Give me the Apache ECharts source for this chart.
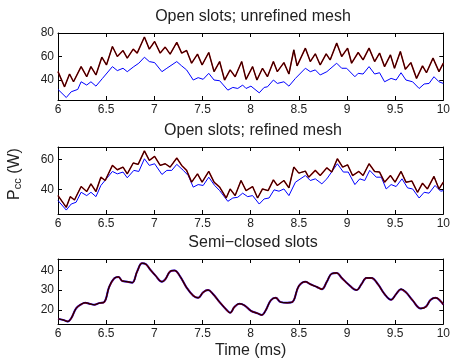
<!DOCTYPE html>
<html>
<head>
<meta charset="utf-8">
<script src="https://cdn.jsdelivr.net/npm/echarts@6/dist/echarts.min.js"></script>
<style>
  html, body { margin: 0; padding: 0; background: #fff; }
  #myecharts { width: 453px; height: 360px; }
</style>
</head>
<body>
<div id="myecharts"></div>
<script>
// data: [time (ms), Pcc (W)]
var titles = ['Open slots; unrefined mesh', 'Open slots; refined mesh', 'Semi\u2212closed slots'];

var unrefRed = [[6.000,47.1],[6.068,34.2],[6.120,45.1],[6.161,38.5],[6.240,51.4],[6.298,42.8],[6.342,51.4],[6.394,44.3],[6.455,59.4],[6.503,52.8],[6.565,68.5],[6.616,60],[6.675,65.1],[6.719,58.6],[6.781,66.3],[6.822,62.9],[6.897,76.6],[6.948,66.3],[7.003,72.8],[7.061,62.9],[7.113,68],[7.164,62],[7.233,72],[7.284,62.9],[7.335,65.1],[7.387,54.3],[7.448,62],[7.496,52.8],[7.565,63.4],[7.620,47.1],[7.678,55.7],[7.729,40],[7.787,48.6],[7.839,42.8],[7.907,55.7],[7.952,40.6],[8.020,51.4],[8.065,40],[8.123,50],[8.174,42.8],[8.236,55.7],[8.277,47.1],[8.345,54.8],[8.397,45.1],[8.448,65.7],[8.482,52],[8.568,67.1],[8.619,55.7],[8.671,62.3],[8.722,52.8],[8.784,62.3],[8.825,57.1],[8.893,71.4],[8.945,60],[9.006,67.1],[9.048,54.3],[9.116,63.4],[9.167,57.1],[9.229,67.1],[9.287,55.7],[9.338,62.9],[9.390,51.4],[9.451,61.4],[9.493,50],[9.554,64.2],[9.606,49.1],[9.663,54.8],[9.722,41.4],[9.784,52],[9.825,46.2],[9.893,58.6],[9.955,47.1],[10.000,54.3]];
var unrefBlue = [[6.000,32],[6.086,25.1],[6.137,30],[6.205,32],[6.240,38.5],[6.298,35.7],[6.342,38.5],[6.394,34.8],[6.462,41.4],[6.565,51.4],[6.616,48],[6.675,50],[6.719,47.1],[6.787,51.4],[6.839,54.3],[6.897,59.4],[6.948,55.7],[7.003,54.8],[7.079,47.1],[7.130,50],[7.233,55.7],[7.284,52],[7.335,48.6],[7.404,40],[7.455,42],[7.507,40.6],[7.565,45.7],[7.620,40],[7.678,39.4],[7.763,31.4],[7.815,33.7],[7.866,32.8],[7.917,35.7],[7.952,32.8],[8.003,34.8],[8.089,29.1],[8.140,33.7],[8.174,34.2],[8.236,40],[8.277,37.1],[8.345,38.5],[8.397,34.8],[8.465,41.4],[8.568,50],[8.619,47.1],[8.671,48.6],[8.722,44.3],[8.791,47.1],[8.893,54.3],[8.945,50],[8.996,50],[9.082,42.8],[9.116,45.7],[9.167,45.1],[9.229,51.4],[9.287,45.1],[9.338,46.2],[9.390,38.5],[9.458,41.4],[9.510,40],[9.561,46.2],[9.612,40],[9.681,38.5],[9.749,32.8],[9.801,36.6],[9.852,37.1],[9.903,42.8],[9.955,38.5],[10.000,37.1]];

var refRed = [[6.000,36],[6.086,28.2],[6.127,35.3],[6.171,33.1],[6.240,42],[6.298,38.7],[6.342,43.8],[6.394,38.7],[6.445,48.2],[6.490,46],[6.565,56],[6.616,53.1],[6.675,54.9],[6.719,50.4],[6.781,57.6],[6.832,56.7],[6.897,65.6],[6.948,59.3],[7.003,62],[7.061,56],[7.113,57.1],[7.164,54.9],[7.233,60.9],[7.284,56],[7.335,52.7],[7.387,44.9],[7.448,50.4],[7.496,44.9],[7.565,52],[7.620,44.9],[7.678,41.6],[7.746,34.4],[7.787,40.4],[7.839,36],[7.900,46],[7.952,39.3],[8.020,42],[8.072,34.4],[8.123,40.4],[8.181,39.3],[8.236,46.4],[8.277,42.7],[8.345,46],[8.397,41.1],[8.448,54.9],[8.500,50.9],[8.568,52.2],[8.602,48.2],[8.671,52.7],[8.722,49.3],[8.791,54.4],[8.842,51.6],[8.900,60.4],[8.955,54.9],[9.006,56.4],[9.058,49.3],[9.123,52],[9.167,49.3],[9.229,57.1],[9.287,52],[9.338,51.6],[9.390,44.9],[9.451,49.3],[9.499,44.9],[9.561,52],[9.612,44.9],[9.674,45.6],[9.732,38.2],[9.784,44.2],[9.835,40.4],[9.903,48.7],[9.955,40.4],[10.000,44.9]];
var refBlue = [[6.000,32.7],[6.086,26.4],[6.137,30.4],[6.188,31.6],[6.240,38.2],[6.298,36],[6.342,38.2],[6.394,35.3],[6.445,42.7],[6.565,52],[6.616,50.4],[6.675,51.6],[6.719,47.8],[6.787,52.7],[6.839,52],[6.897,60.4],[6.948,56],[7.003,57.1],[7.079,50],[7.130,52.7],[7.181,52.7],[7.233,56.7],[7.301,52.7],[7.352,49.3],[7.404,41.6],[7.455,43.3],[7.507,42.7],[7.565,48.2],[7.626,42.7],[7.678,39.3],[7.763,32.2],[7.815,34.4],[7.866,34.9],[7.917,37.6],[7.969,35.3],[8.020,36],[8.089,30.4],[8.140,33.8],[8.191,34.4],[8.243,39.8],[8.294,38.9],[8.345,40.4],[8.397,36],[8.465,44.9],[8.568,49.3],[8.619,46],[8.671,47.1],[8.739,43.8],[8.791,47.1],[8.900,57.1],[8.962,51.6],[9.013,51.6],[9.082,43.3],[9.133,47.1],[9.184,46],[9.236,52.7],[9.304,48.2],[9.356,48.2],[9.407,40.4],[9.458,43.3],[9.510,42],[9.571,47.1],[9.629,41.1],[9.681,40.4],[9.749,34.4],[9.801,38.2],[9.852,37.6],[9.914,42.7],[9.972,38.9],[10.000,39.3]];

var semi = [[6.000,15.4],[6.051,14.9],[6.103,14.1],[6.137,15.7],[6.188,20.7],[6.240,22.8],[6.284,23.6],[6.325,23.1],[6.377,22.6],[6.428,23.4],[6.479,23.9],[6.531,31.6],[6.582,35.9],[6.627,36.7],[6.668,34.6],[6.719,34.3],[6.770,33.8],[6.822,39.5],[6.873,43.6],[6.914,43.1],[6.959,40.3],[7.010,37.5],[7.079,34.3],[7.113,35.4],[7.164,39.5],[7.209,40],[7.267,37],[7.335,31.3],[7.404,27.2],[7.455,26.1],[7.507,28.9],[7.558,30],[7.609,28],[7.678,23.9],[7.746,20.2],[7.787,18.5],[7.832,21.5],[7.883,23.1],[7.935,22.3],[8.003,19.5],[8.072,18.2],[8.116,17.4],[8.157,19.8],[8.209,24.8],[8.260,26.1],[8.311,23.9],[8.380,23.6],[8.431,23.9],[8.500,32.1],[8.568,34.3],[8.619,33],[8.688,31.6],[8.739,30.5],[8.791,34.3],[8.842,38.4],[8.893,38.7],[8.945,36.2],[9.013,33],[9.099,30],[9.150,33],[9.202,36.2],[9.253,36.2],[9.321,33],[9.390,28],[9.458,25.1],[9.510,28],[9.561,30.5],[9.612,28.9],[9.681,24.8],[9.766,20.7],[9.818,21.5],[9.869,25.1],[9.921,26.1],[9.972,24.4],[10.000,22.6]];

var yTicks = [[40, 60, 80], [40, 60], [20, 30, 40]];
var yRange = [[23, 80], [23.8, 68.2], [12.8, 45.8]];

var font = 'Liberation Sans, Arial, sans-serif';
var gridTops = [33, 147, 259];
var gridH = 67;

var grids = [], xAxes = [], yAxes = [], titleList = [], series = [];
for (var i = 0; i < 3; i++) {
    grids.push({left: 58, right: 5, top: gridTops[i], height: gridH});
    titleList.push({
        text: titles[i], left: 253, top: gridTops[i] - 24, textAlign: 'center', padding: 0,
        textStyle: {fontFamily: font, fontSize: 16, fontWeight: 'normal', color: '#222'}
    });
    // bottom + top x axis (box)
    xAxes.push({
        type: 'value', gridIndex: i, min: 6, max: 10, interval: 0.5, position: 'bottom',
        axisLine: {lineStyle: {color: '#000', width: 1}},
        axisTick: {inside: true, length: 4, lineStyle: {color: '#000'}},
        axisLabel: {fontFamily: font, fontSize: 12, color: '#222', margin: 4},
        splitLine: {show: false}
    });
    xAxes.push({
        type: 'value', gridIndex: i, min: 6, max: 10, interval: 0.5, position: 'top',
        axisLine: {lineStyle: {color: '#000', width: 1}},
        axisTick: {inside: true, length: 4, lineStyle: {color: '#000'}},
        axisLabel: {show: false}, splitLine: {show: false}
    });
    yAxes.push({
        type: 'value', gridIndex: i, min: yRange[i][0], max: yRange[i][1], position: 'left',
        axisLine: {show: true, lineStyle: {color: '#000', width: 1}},
        axisTick: {show: true, inside: true, length: 4, customValues: yTicks[i], lineStyle: {color: '#000'}},
        axisLabel: {fontFamily: font, fontSize: 12, color: '#222', margin: 4, customValues: yTicks[i]},
        splitLine: {show: false}
    });
    yAxes.push({
        type: 'value', gridIndex: i, min: yRange[i][0], max: yRange[i][1], position: 'right',
        axisLine: {show: true, lineStyle: {color: '#000', width: 1}},
        axisTick: {show: true, inside: true, length: 4, customValues: yTicks[i], lineStyle: {color: '#000'}},
        axisLabel: {show: false}, splitLine: {show: false}
    });
}

xAxes[4].name = 'Time (ms)';
xAxes[4].nameLocation = 'middle';
xAxes[4].nameGap = 19;
xAxes[4].nameTextStyle = {fontFamily: font, fontSize: 16, color: '#222', verticalAlign: 'top'};

function line(name, data, gi, color, width, smooth) {
    return {
        name: name, type: 'line', xAxisIndex: gi * 2, yAxisIndex: gi * 2,
        data: data, showSymbol: false, smooth: smooth || false,
        lineStyle: {color: color, width: width}, itemStyle: {color: color}
    };
}

series.push(line('blue', unrefBlue, 0, '#0000ff', 1));
series.push(line('red', unrefRed, 0, '#b00000', 1.5));
series.push(line('black', unrefRed, 0, '#000000', 0.8));
series.push(line('blue', refBlue, 1, '#0000ff', 1));
series.push(line('red', refRed, 1, '#b00000', 1.5));
series.push(line('black', refRed, 1, '#000000', 0.8));
series.push(line('blue', semi, 2, '#0000ff', 2, 0.4));
series.push(line('red', semi, 2, '#b00000', 1.5, 0.4));
series.push(line('black', semi, 2, '#000000', 1, 0.4));

var myChart = echarts.init(document.getElementById('myecharts'));
var option = {
    backgroundColor: '#fff',
    animation: false,
    title: titleList,
    grid: grids,
    xAxis: xAxes,
    yAxis: yAxes,
    // y axis title, P with subscript cc
    graphic: [{
        type: 'text', x: 15, y: 174, rotation: Math.PI / 2,
        style: {
            text: '{p|P}{s|cc}{p| (W)}', align: 'center', verticalAlign: 'middle',
            rich: {
                p: {fontFamily: font, fontSize: 16, fill: '#222', lineHeight: 16, verticalAlign: 'top'},
                s: {fontFamily: font, fontSize: 11, fill: '#222', lineHeight: 11, padding: [8, 0, 0, 0], verticalAlign: 'bottom'}
            }
        }
    }],
    series: series
};
myChart.setOption(option);
</script>
</body>
</html>
